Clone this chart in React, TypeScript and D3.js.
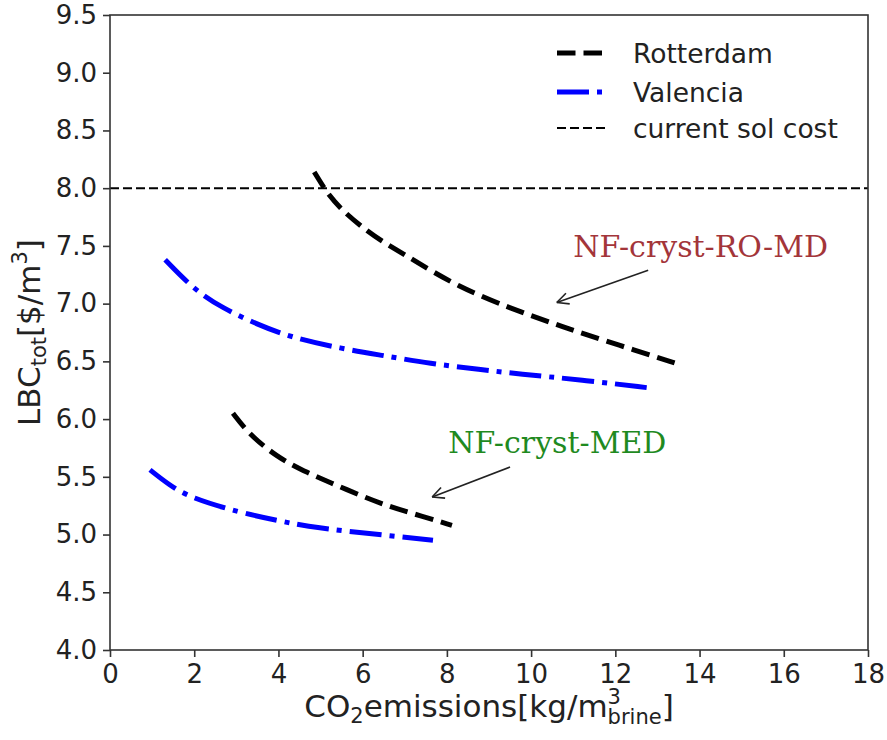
import React, { useEffect, useRef } from "react";
import * as d3 from "d3";

const rotterdamROMD: [number, number][] = [
  [4.85, 8.14], [5.2, 7.93], [5.6, 7.78], [6.0, 7.66], [6.41, 7.55], [7.2, 7.38], [8.24, 7.15],
  [9.57, 6.95], [10.52, 6.83], [11.0, 6.77], [12.0, 6.65], [13.55, 6.47],
];
const valenciaROMD: [number, number][] = [
  [1.31, 7.38], [2.0, 7.12], [2.68, 6.96], [3.5, 6.82], [4.28, 6.71], [5.5, 6.61],
  [6.5, 6.55], [7.6, 6.48], [8.8, 6.43], [9.7, 6.39], [11.2, 6.34], [12.8, 6.27],
];
const rotterdamMED: [number, number][] = [
  [2.92, 6.05], [3.3, 5.87], [3.97, 5.67], [4.6, 5.55], [5.23, 5.45], [6.0, 5.33],
  [6.65, 5.24], [7.4, 5.16], [8.12, 5.08],
];
const valenciaMED: [number, number][] = [
  [0.95, 5.56], [1.4, 5.43], [1.9, 5.32], [3.09, 5.19], [4.0, 5.12], [4.68, 5.07],
  [5.6, 5.03], [6.65, 4.99], [7.67, 4.95],
];
const currentSolCost = 8.0;

const xTicks = [0, 2, 4, 6, 8, 10, 12, 14, 16, 18];
const yTicks = [4.0, 4.5, 5.0, 5.5, 6.0, 6.5, 7.0, 7.5, 8.0, 8.5, 9.0, 9.5];

const legendLabels = ["Rotterdam", "Valencia", "current sol cost"];

// annotation text anchor, arrow start, arrow tip (data units)
const annotations = [
  { text: "NF-cryst-RO-MD", color: "#a3353a", at: [11.0, 7.4], from: [12.78, 7.29], to: [10.61, 7.01] },
  { text: "NF-cryst-MED", color: "#1f8a1f", at: [8.03, 5.71], from: [9.5, 5.585], to: [7.65, 5.325] },
];

const width = 887;
const height = 740;

const App = () => {
  const svgRef = useRef<SVGSVGElement>(null);

  useEffect(() => {
    const svg = d3.select(svgRef.current);
    svg.selectAll("*").remove();

    const margin = { top: 15, right: 19, bottom: 90, left: 110 };
    const innerWidth = width - margin.left - margin.right;
    const innerHeight = height - margin.top - margin.bottom;
    const font = "DejaVu Sans, sans-serif";

    const x = d3.scaleLinear().domain([0, 18]).range([0, innerWidth]);
    const y = d3.scaleLinear().domain([4.0, 9.5]).range([innerHeight, 0]);

    const g = svg.append("g").attr("transform", `translate(${margin.left},${margin.top})`);

    const line = d3
      .line<[number, number]>()
      .x((d) => x(d[0]))
      .y((d) => y(d[1]))
      .curve(d3.curveBasis);

    // horizontal reference line
    g.append("line")
      .attr("x1", x(0))
      .attr("x2", x(18))
      .attr("y1", y(currentSolCost))
      .attr("y2", y(currentSolCost))
      .attr("stroke", "black")
      .attr("stroke-width", 2)
      .attr("stroke-dasharray", "9,4");

    const lw = 5;
    const dashed = `${3.7 * lw},${1.6 * lw}`;
    const dashDot = `${6.4 * lw},${1.6 * lw},${1 * lw},${1.6 * lw}`;

    [rotterdamROMD, rotterdamMED].forEach((s) => {
      g.append("path")
        .datum(s)
        .attr("fill", "none")
        .attr("stroke", "black")
        .attr("stroke-width", lw)
        .attr("stroke-dasharray", dashed)
        .attr("d", line);
    });
    [valenciaROMD, valenciaMED].forEach((s) => {
      g.append("path")
        .datum(s)
        .attr("fill", "none")
        .attr("stroke", "#0000ff")
        .attr("stroke-width", lw)
        .attr("stroke-dasharray", dashDot)
        .attr("d", line);
    });

    // frame
    g.append("rect")
      .attr("width", innerWidth)
      .attr("height", innerHeight)
      .attr("fill", "none")
      .attr("stroke", "#333")
      .attr("stroke-width", 1.6);

    // x axis
    const xa = g.append("g").attr("transform", `translate(0,${innerHeight})`)
      .call(d3.axisBottom(x).tickValues(xTicks).tickSize(7).tickPadding(8).tickFormat(d3.format("d")));
    xa.select(".domain").remove();
    xa.selectAll("line").attr("stroke", "#333").attr("stroke-width", 1.6);
    xa.selectAll("text").attr("font-size", 26).attr("font-family", font).attr("fill", "#222");

    // y axis
    const ya = g.append("g")
      .call(d3.axisLeft(y).tickValues(yTicks).tickSize(7).tickPadding(6).tickFormat(d3.format(".1f")));
    ya.select(".domain").remove();
    ya.selectAll("line").attr("stroke", "#333").attr("stroke-width", 1.6);
    ya.selectAll("text").attr("font-size", 26).attr("font-family", font).attr("fill", "#222");

    // x label (mathtext-like: CO_2 and m^3_brine)
    const xl = svg.append("text")
      .attr("x", margin.left + innerWidth / 2)
      .attr("y", 717)
      .attr("text-anchor", "middle")
      .attr("font-size", 31)
      .attr("font-family", font)
      .attr("fill", "#222");
    xl.append("tspan").text("CO");
    xl.append("tspan").attr("font-size", 21).attr("dy", 6).text("2");
    xl.append("tspan").attr("dy", -6).text("emissions[kg/m");
    xl.append("tspan").attr("font-size", 21).attr("dy", -13).text("3");
    xl.append("tspan").attr("font-size", 21).attr("dx", -13.4).attr("dy", 20).text("brine");
    xl.append("tspan").attr("dy", -7).text("]");

    // y label
    const yl = svg.append("text")
      .attr("transform", `translate(40,${margin.top + innerHeight / 2}) rotate(-90)`)
      .attr("text-anchor", "middle")
      .attr("font-size", 31)
      .attr("font-family", font)
      .attr("fill", "#222");
    yl.append("tspan").text("LBC");
    yl.append("tspan").attr("font-size", 21).attr("dy", 6).text("tot");
    yl.append("tspan").attr("dy", -6).text("[$/m");
    yl.append("tspan").attr("font-size", 21).attr("dy", -13).text("3");
    yl.append("tspan").attr("dy", 13).text("]");

    // annotations
    annotations.forEach((a) => {
      g.append("text")
        .attr("x", x(a.at[0]))
        .attr("y", y(a.at[1]))
        .attr("font-family", "DejaVu Serif, serif")
        .attr("font-size", 30)
        .attr("fill", a.color)
        .text(a.text);
      const x1 = x(a.from[0]), y1 = y(a.from[1]);
      const x2 = x(a.to[0]), y2 = y(a.to[1]);
      g.append("line")
        .attr("x1", x1).attr("y1", y1).attr("x2", x2).attr("y2", y2)
        .attr("stroke", "#222").attr("stroke-width", 1.6);
      const ang = Math.atan2(y1 - y2, x1 - x2);
      const hl = 13;
      [0.45, -0.45].forEach((da) => {
        g.append("line")
          .attr("x1", x2).attr("y1", y2)
          .attr("x2", x2 + hl * Math.cos(ang + da))
          .attr("y2", y2 + hl * Math.sin(ang + da))
          .attr("stroke", "#222").attr("stroke-width", 1.6);
      });
    });

    // legend
    const legend = svg.append("g");
    const styles = [
      { stroke: "black", w: lw, dash: dashed },
      { stroke: "#0000ff", w: lw, dash: dashDot },
      { stroke: "black", w: 2, dash: "9,4" },
    ];
    const legendY = [53, 92, 128];
    legendLabels.forEach((lab, i) => {
      legend.append("line")
        .attr("x1", 557).attr("x2", 608)
        .attr("y1", legendY[i]).attr("y2", legendY[i])
        .attr("stroke", styles[i].stroke)
        .attr("stroke-width", styles[i].w)
        .attr("stroke-dasharray", styles[i].dash);
      legend.append("text")
        .attr("x", 633)
        .attr("y", legendY[i])
        .attr("dominant-baseline", "central")
        .attr("font-size", 26.5)
        .attr("font-family", font)
        .attr("fill", "#222")
        .text(lab);
    });
  }, []);

  return (
    <svg
      ref={svgRef}
      width={width}
      height={height}
      style={{ position: "absolute", left: 0, top: 0, background: "white" }}
    ></svg>
  );
};

export default App;
